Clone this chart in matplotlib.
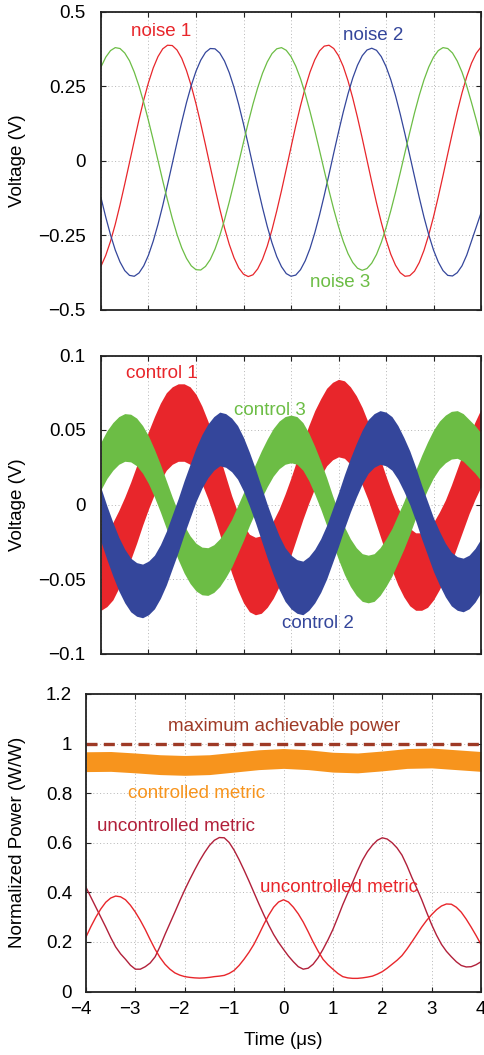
import matplotlib
matplotlib.use("Agg")
import matplotlib.pyplot as plt
import matplotlib.transforms as mtransforms
import numpy as np

plt.rcParams['font.family'] = ['Liberation Sans', 'DejaVu Sans']

# time samples (us)
t_noise = np.linspace(-4, 4, 81)
t_ctrl = np.linspace(-4, 4, 65)
t_orange = np.linspace(-4, 4, 17)
t_power = np.linspace(-4, 4, 81)

# top panel: noise waveforms (V)
noise1 = [-0.353, -0.317, -0.270, -0.213, -0.148, -0.078, -0.006, 0.067, 0.138, 0.204,
          0.262, 0.311, 0.349, 0.375, 0.387, 0.386, 0.371, 0.343, 0.302, 0.251,
          0.191, 0.124, 0.053, -0.020, -0.092, -0.161, -0.225, -0.280, -0.325, -0.359,
          -0.380, -0.388, -0.382, -0.362, -0.330, -0.286, -0.231, -0.168, -0.100, -0.028,
          0.045, 0.117, 0.184, 0.245, 0.297, 0.338, 0.368, 0.384, 0.387, 0.376,
          0.352, 0.316, 0.268, 0.210, 0.145, 0.075, 0.002, -0.071, -0.141, -0.206,
          -0.264, -0.313, -0.350, -0.375, -0.387, -0.385, -0.370, -0.341, -0.300, -0.248,
          -0.188, -0.121, -0.050, 0.023, 0.095, 0.164, 0.227, 0.282, 0.327, 0.360,
          0.381]
noise2 = [-0.124, -0.189, -0.248, -0.299, -0.339, -0.368, -0.384, -0.387, -0.376, -0.352,
          -0.316, -0.269, -0.213, -0.150, -0.081, -0.010, 0.061, 0.130, 0.195, 0.252,
          0.300, 0.337, 0.363, 0.376, 0.375, 0.361, 0.334, 0.295, 0.246, 0.188,
          0.123, 0.054, -0.018, -0.089, -0.157, -0.220, -0.275, -0.321, -0.355, -0.378,
          -0.387, -0.383, -0.365, -0.335, -0.294, -0.242, -0.182, -0.116, -0.046, 0.026,
          0.096, 0.163, 0.224, 0.277, 0.320, 0.352, 0.371, 0.377, 0.370, 0.349,
          0.316, 0.272, 0.218, 0.156, 0.089, 0.018, -0.053, -0.123, -0.189, -0.248,
          -0.299, -0.339, -0.368, -0.384, -0.386, -0.375, -0.352, -0.316, -0.269, -0.222,
          -0.175]
noise3 = [0.314, 0.347, 0.369, 0.379, 0.376, 0.361, 0.335, 0.297, 0.250, 0.195,
          0.134, 0.069, 0.001, -0.067, -0.132, -0.193, -0.247, -0.292, -0.327, -0.352,
          -0.365, -0.366, -0.354, -0.331, -0.296, -0.251, -0.198, -0.138, -0.073, -0.006,
          0.062, 0.128, 0.190, 0.245, 0.293, 0.331, 0.359, 0.375, 0.379, 0.370,
          0.349, 0.317, 0.275, 0.224, 0.165, 0.102, 0.035, -0.033, -0.100, -0.163,
          -0.220, -0.270, -0.311, -0.341, -0.360, -0.367, -0.361, -0.343, -0.314, -0.274,
          -0.225, -0.168, -0.106, -0.040, 0.028, 0.095, 0.160, 0.219, 0.271, 0.314,
          0.347, 0.369, 0.379, 0.376, 0.361, 0.334, 0.297, 0.250, 0.195, 0.137,
          0.075]

# middle panel: control signals, band centre (V) and band half width (V)
control1 = [-0.045, -0.0425, -0.038, -0.030, -0.021, -0.011, 0.000, 0.012, 0.023, 0.033,
            0.042, 0.049, 0.053, 0.055, 0.055, 0.053, 0.048, 0.040, 0.030, 0.0185,
            0.006, -0.007, -0.020, -0.031, -0.040, -0.046, -0.048, -0.047, -0.043, -0.037,
            -0.029, -0.019, -0.008, 0.004, 0.016, 0.027, 0.037, 0.045, 0.052, 0.056,
            0.058, 0.057, 0.053, 0.047, 0.039, 0.029, 0.017, 0.005, -0.007, -0.018,
            -0.028, -0.036, -0.042, -0.045, -0.045, -0.043, -0.038, -0.031, -0.023, -0.013,
            -0.002, 0.009, 0.020, 0.0295, 0.038]
control2 = [-0.007, -0.019, -0.030, -0.040, -0.048, -0.054, -0.057, -0.058, -0.056, -0.052,
            -0.045, -0.036, -0.025, -0.014, -0.002, 0.009, 0.020, 0.029, 0.036, 0.041,
            0.044, 0.043, 0.040, 0.035, 0.027, 0.017, 0.006, -0.006, -0.018, -0.029,
            -0.039, -0.047, -0.052, -0.055, -0.056, -0.053, -0.048, -0.041, -0.032, -0.021,
            -0.010, 0.002, 0.013, 0.023, 0.032, 0.039, 0.043, 0.045, 0.044, 0.041,
            0.035, 0.027, 0.018, 0.007, -0.005, -0.016, -0.027, -0.036, -0.044, -0.050,
            -0.053, -0.054, -0.052, -0.0475, -0.041]
control3 = [0.026, 0.0335, 0.039, 0.043, 0.045, 0.0446, 0.042, 0.037, 0.030, 0.021,
            0.011, 0.000, -0.011, -0.021, -0.030, -0.037, -0.042, -0.0446, -0.045, -0.043,
            -0.039, -0.033, -0.026, -0.017, -0.008, 0.002, 0.011, 0.020, 0.028, 0.035,
            0.040, 0.043, 0.044, 0.043, 0.039, 0.032, 0.023, 0.013, 0.002, -0.010,
            -0.021, -0.031, -0.039, -0.045, -0.049, -0.050, -0.049, -0.045, -0.039, -0.032,
            -0.023, -0.014, -0.004, 0.007, 0.017, 0.026, 0.034, 0.040, 0.044, 0.0465,
            0.047, 0.045, 0.041, 0.037, 0.032]
control1_hw = 0.026
control2_hw = 0.018
control3_hw = 0.016

# bottom panel: normalized power (W/W)
controlled = [0.927, 0.928, 0.922, 0.915, 0.912, 0.915, 0.925, 0.935, 0.940, 0.935,
              0.925, 0.922, 0.930, 0.940, 0.942, 0.935, 0.928]
controlled_hw = 0.04
uncontrolled_a = [0.42, 0.38, 0.34, 0.30, 0.26, 0.218, 0.18, 0.152, 0.13, 0.106,
                  0.09, 0.09, 0.10, 0.115, 0.14, 0.182, 0.23, 0.275, 0.32, 0.366,
                  0.41, 0.451, 0.49, 0.527, 0.56, 0.589, 0.61, 0.621, 0.62, 0.601,
                  0.57, 0.532, 0.49, 0.446, 0.40, 0.354, 0.31, 0.268, 0.23, 0.198,
                  0.17, 0.143, 0.12, 0.10, 0.09, 0.094, 0.11, 0.136, 0.17, 0.208,
                  0.25, 0.299, 0.35, 0.396, 0.44, 0.487, 0.53, 0.564, 0.59, 0.61,
                  0.62, 0.615, 0.60, 0.579, 0.55, 0.508, 0.46, 0.416, 0.37, 0.319,
                  0.27, 0.227, 0.19, 0.162, 0.14, 0.12, 0.105, 0.099, 0.10, 0.108,
                  0.12]
uncontrolled_b = [0.22, 0.262, 0.30, 0.333, 0.36, 0.377, 0.385, 0.382, 0.37, 0.348,
                  0.32, 0.287, 0.25, 0.209, 0.17, 0.137, 0.11, 0.09, 0.075, 0.066,
                  0.06, 0.057, 0.055, 0.054, 0.055, 0.057, 0.06, 0.062, 0.065, 0.073,
                  0.085, 0.105, 0.13, 0.158, 0.19, 0.229, 0.27, 0.308, 0.34, 0.361,
                  0.37, 0.361, 0.34, 0.313, 0.28, 0.241, 0.20, 0.163, 0.13, 0.108,
                  0.09, 0.073, 0.06, 0.055, 0.053, 0.053, 0.055, 0.058, 0.062, 0.070,
                  0.08, 0.094, 0.11, 0.126, 0.145, 0.171, 0.20, 0.230, 0.26, 0.287,
                  0.31, 0.330, 0.345, 0.353, 0.352, 0.340, 0.32, 0.292, 0.26, 0.226,
                  0.19]
max_power = 1.0

xticks = [-4, -3, -2, -1, 0, 1, 2, 3, 4]
xticklabels = ['\u22124', '\u22123', '\u22122', '\u22121', '0', '1', '2', '3', '4']
top_yticks = [-0.5, -0.25, 0, 0.25, 0.5]
top_ylabels = ['\u22120.5', '\u22120.25', '0', '0.25', '0.5']
mid_yticks = [-0.1, -0.05, 0, 0.05, 0.1]
mid_ylabels = ['\u22120.1', '\u22120.05', '0', '0.05', '0.1']
bot_yticks = [0, 0.2, 0.4, 0.6, 0.8, 1.0, 1.2]
bot_ylabels = ['0', '0.2', '0.4', '0.6', '0.8', '1', '1.2']

RED = '#e8262b'
BLUE = '#34469b'
GREEN = '#6cbd45'
ORANGE = '#f7941d'
DARKRED = '#b1203a'
BROWN = '#9e3a26'
FS = 13.5

W, H = 484, 1055
fig = plt.figure(figsize=(W / 100, H / 100), dpi=100)
ax1 = fig.add_axes([101 / W, 1 - 310 / H, 380 / W, 298.5 / H])
ax2 = fig.add_axes([101 / W, 1 - 653.5 / H, 380 / W, 298 / H])
ax3 = fig.add_axes([86 / W, 1 - 991.5 / H, 395 / W, 297.5 / H])


def style(ax, yticks, ylabels, ypad):
    ax.set_xlim(-4, 4)
    ax.set_xticks(xticks)
    ax.set_yticks(yticks)
    ax.set_ylim(yticks[0], yticks[-1])
    ax.set_yticklabels(ylabels)
    ax.tick_params(direction='in', length=3.5, width=0.8, top=True, right=True,
                   labelsize=FS, color='#222222')
    ax.tick_params(axis='y', pad=ypad)
    ax.tick_params(axis='x', pad=6.5)
    ax.grid(True, linestyle=(0, (1, 2.5)), color='#b5b5b5', linewidth=0.7)
    ax.set_axisbelow(True)
    for s in ax.spines.values():
        s.set_linewidth(1.3)
        s.set_color('#222222')


# top panel
style(ax1, top_yticks, top_ylabels, 11)
ax1.set_xticklabels([])
ax1.plot(t_noise, noise1, color=RED, lw=0.9)
ax1.plot(t_noise, noise2, color=BLUE, lw=0.9)
ax1.plot(t_noise, noise3, color=GREEN, lw=0.9)
ax1.text(-3.36, 0.433, 'noise 1', color=RED, fontsize=FS, va='center')
ax1.text(1.1, 0.42, 'noise 2', color=BLUE, fontsize=FS, va='center')
ax1.text(0.41, -0.408, 'noise 3', color=GREEN, fontsize=FS, va='center')
ax1.set_ylabel('Voltage (V)', fontsize=FS)
ax1.yaxis.set_label_coords(-0.197, 0.5)

# middle panel
style(ax2, mid_yticks, mid_ylabels, 11)
ax2.set_xticklabels([])
for c, hw, col in [(control1, control1_hw, RED), (control3, control3_hw, GREEN),
                   (control2, control2_hw, BLUE)]:
    c = np.array(c)
    ax2.fill_between(t_ctrl, c - hw, c + hw, color=col, lw=0)
ax2.text(-3.48, 0.088, 'control 1', color=RED, fontsize=FS, va='center')
ax2.text(-1.2, 0.063, 'control 3', color=GREEN, fontsize=FS, va='center')
ax2.text(-0.19, -0.080, 'control 2', color=BLUE, fontsize=FS, va='center')
ax2.set_ylabel('Voltage (V)', fontsize=FS)
ax2.yaxis.set_label_coords(-0.197, 0.5)

# bottom panel
style(ax3, bot_yticks, bot_ylabels, 10)
ax3.set_xticklabels(xticklabels)
# negative labels: the digit sits on the tick, the minus hangs left
shift = mtransforms.ScaledTranslation(-0.055, 0, fig.dpi_scale_trans)
for lab in ax3.get_xticklabels():
    if lab.get_text().startswith('\u2212'):
        lab.set_transform(lab.get_transform() + shift)
cm = np.array(controlled)
ax3.fill_between(t_orange, cm - controlled_hw, cm + controlled_hw, color=ORANGE, lw=0)
ax3.plot(t_power, uncontrolled_a, color=DARKRED, lw=1.0)
ax3.plot(t_power, uncontrolled_b, color=RED, lw=1.0)
ax3.plot([-4, 4], [max_power, max_power], color=BROWN, lw=2.4, dashes=(3.3, 1.9))
ax3.text(0.02, 1.067, 'maximum achievable power', color=BROWN, fontsize=FS,
         ha='center', va='center')
ax3.text(-3.14, 0.797, 'controlled metric', color=ORANGE, fontsize=FS, va='center')
ax3.text(-3.77, 0.665, 'uncontrolled metric', color=DARKRED, fontsize=FS, va='center')
ax3.text(-0.48, 0.418, 'uncontrolled metric', color=RED, fontsize=FS, va='center')
ax3.set_ylabel('Normalized Power (W/W)', fontsize=FS)
ax3.yaxis.set_label_coords(-0.152, 0.5)
ax3.set_xlabel('Time (\u03bcs)', fontsize=FS)
ax3.xaxis.set_label_coords(0.5, -0.135)

fig.savefig('out.png', dpi=100)
